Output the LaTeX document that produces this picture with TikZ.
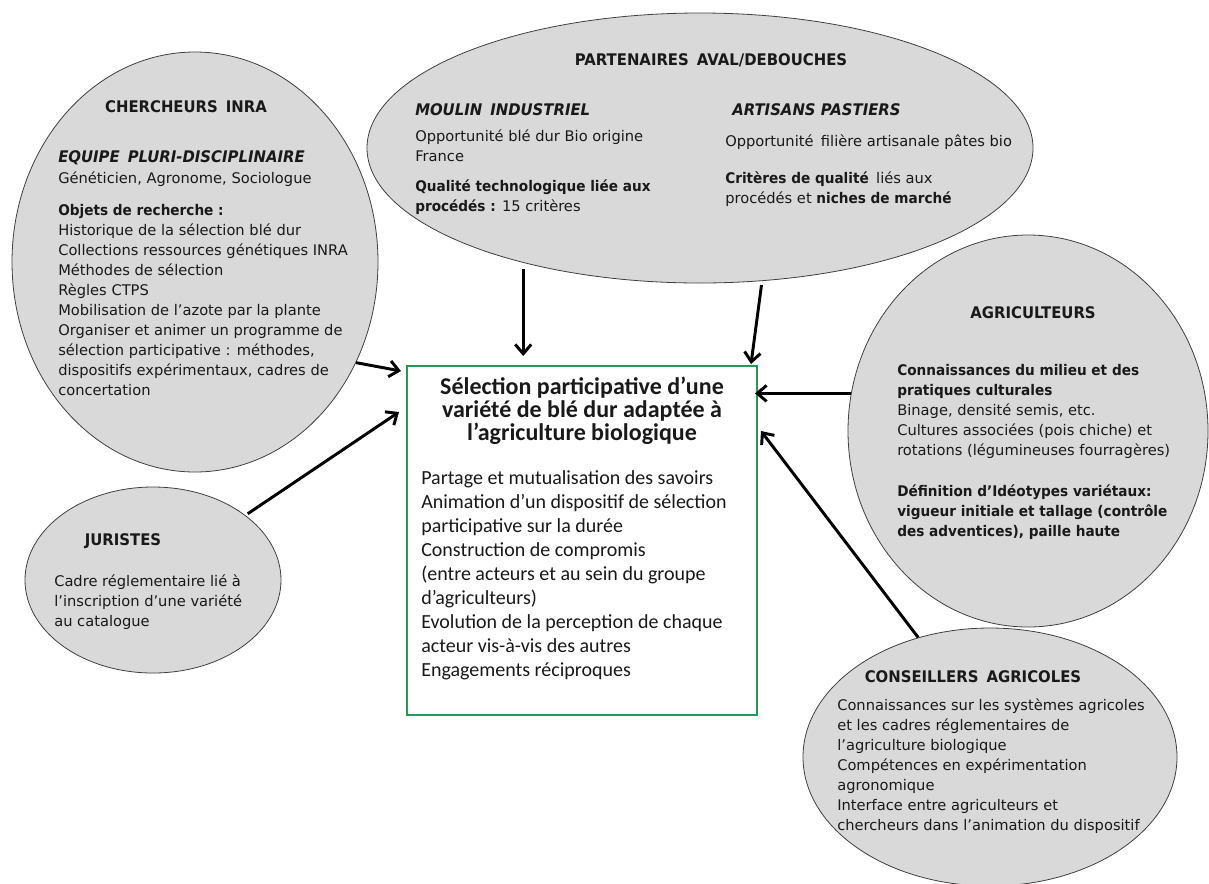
\documentclass[tikz,border=0pt]{standalone}
\usepackage{fontspec}
\setmainfont{DejaVu Sans}[BoldFeatures={FakeStretch=0.93},BoldItalicFeatures={FakeStretch=0.93}]
\newfontfamily\boxfont{Carlito}
\usetikzlibrary{shapes,arrows.meta}

\definecolor{boxgreen}{RGB}{38,152,88}
\definecolor{txtgray}{RGB}{25,25,25}

\tikzset{
  actor/.style={ellipse, draw=black!75, line width=0.6pt, fill=black!15, inner sep=0pt},
  eltitle/.style={font=\fontsize{12}{15}\selectfont\bfseries, text=txtgray, inner sep=0pt},
  eltext/.style={font=\fontsize{11}{15}\selectfont, text=txtgray, align=left, anchor=north west, inner sep=0pt},
  elbold/.style={eltext, font=\fontsize{11}{15}\selectfont\bfseries},
  elhead/.style={eltext, font=\fontsize{12}{15}\selectfont\bfseries\itshape},
  link/.style={-{Straight Barb[length=7pt,width=12pt]}, line width=2.2pt},
}

\begin{document}
\begin{tikzpicture}[x=0.75pt, y=-0.75pt]
\useasboundingbox (0,0) rectangle (1209,883);
\fill[white] (0,0) rectangle (1209,883);

% acteurs
\node[actor, minimum width=274.5pt, minimum height=315pt] (cherch) at (195,262) {};
\node[actor, minimum width=499.5pt, minimum height=202.5pt] (aval) at (700,148) {};
\node[actor, minimum width=270pt, minimum height=294pt] (agri) at (1028,431) {};
\node[actor, minimum width=192pt, minimum height=139.5pt] (jur) at (153,580) {};
\node[actor, minimum width=280.5pt, minimum height=193.5pt] (cons) at (990,757) {};

% chercheurs INRA
\node[eltitle] (cherchT) at (186,107) {CHERCHEURS\enspace INRA};
\node[elhead] (cherchEq) at (58,150) {EQUIPE\enspace PLURI-DISCIPLINAIRE};
\node[eltext] (cherchGen) at (58,171) {Généticien, Agronome, Sociologue};
\node[eltext] (cherchObj) at (58,204) {\textbf{Objets de recherche :}\\Historique de la sélection blé dur\\Collections ressources génétiques INRA\\Méthodes de sélection\\Règles CTPS\\Mobilisation de l’azote par la plante\\Organiser et animer un programme de\\sélection participative : méthodes,\\dispositifs expérimentaux, cadres de\\concertation};

% partenaires aval
\node[eltitle] (avalT) at (711,60) {PARTENAIRES\enspace AVAL/DEBOUCHES};
\node[elhead] (moulinT) at (415,103) {MOULIN\enspace INDUSTRIEL};
\node[eltext] (moulinA) at (415,129) {Opportunité blé dur Bio origine\\France};
\node[eltext] (moulinB) at (415,179) {\textbf{Qualité technologique liée aux}\\\textbf{procédés :} 15 critères};
\node[elhead] (artisT) at (732,103) {ARTISANS PASTIERS};
\node[eltext] (artisA) at (725,134) {Opportunité\enspace filière artisanale pâtes bio};
\node[eltext] (artisB) at (725,171) {\textbf{Critères de qualité}\enspace liés aux\\procédés et \textbf{niches de marché}};

% agriculteurs
\node[eltitle] (agriT) at (1033,313) {AGRICULTEURS};
\node[eltext] (agriA) at (897,364) {\textbf{Connaissances du milieu et des}\\\textbf{pratiques culturales}\\Binage, densité semis, etc.\\Cultures associées (pois chiche) et\\rotations (légumineuses fourragères)};
\node[elbold] (agriB) at (897,484) {Définition d’Idéotypes variétaux:\\vigueur initiale et tallage (contrôle\\des adventices), paille haute};

% juristes
\node[eltitle] (jurT) at (123,541) {JURISTES};
\node[eltext] (jurA) at (54,574) {Cadre réglementaire lié à\\l’inscription d’une variété\\au catalogue};

% conseillers
\node[eltitle] (consT) at (973,677) {CONSEILLERS\enspace AGRICOLES};
\node[eltext] (consA) at (837,698) {Connaissances sur les systèmes agricoles\\et les cadres réglementaires de\\l’agriculture biologique\\Compétences en expérimentation\\agronomique\\Interface entre agriculteurs et\\chercheurs dans l’animation du dispositif};

% selection participative
\node[draw=boxgreen, line width=1.5pt, fill=white, minimum width=262.5pt, minimum height=261.75pt, inner sep=0pt] (sel) at (582,540.5) {};
\node[font=\boxfont\fontsize{18}{17.25}\selectfont\bfseries, text=txtgray, align=center, anchor=north, inner sep=0pt] (selT) at (582,377) {Sélection participative d’une\\variété de blé dur adaptée à\\l’agriculture biologique};
\node[font=\boxfont\fontsize{15}{18}\selectfont, text=txtgray, align=left, anchor=north west, inner sep=0pt] (selB) at (421,470) {Partage et mutualisation des savoirs\\Animation d’un dispositif de sélection\\participative sur la durée\\Construction de compromis\\(entre acteurs et au sein du groupe\\d’agriculteurs)\\Evolution de la perception de chaque\\acteur vis-à-vis des autres\\Engagements réciproques};

% fleches
\draw[link, shorten <=4.5pt, shorten >=6.75pt] (aval.213) -- (aval.213 |- sel.north);
\draw[link, shorten <=3pt] (aval.295) -- ([xshift=-5.25pt,yshift=0.75pt]sel.north east);
\draw[link] (cherch.328) -- ([xshift=-3.75pt,yshift=-4.5pt]sel.north west);
\draw[link, shorten <=2pt] (jur.35) -- ([xshift=-5.25pt,yshift=-35.25pt]sel.north west);
\draw[link, shorten >=-2.25pt] (agri.168) -- (agri.168 -| sel.east);
\draw[link] (cons.121) -- ([xshift=2.25pt,yshift=-49.5pt]sel.north east);
\end{tikzpicture}
\end{document}
